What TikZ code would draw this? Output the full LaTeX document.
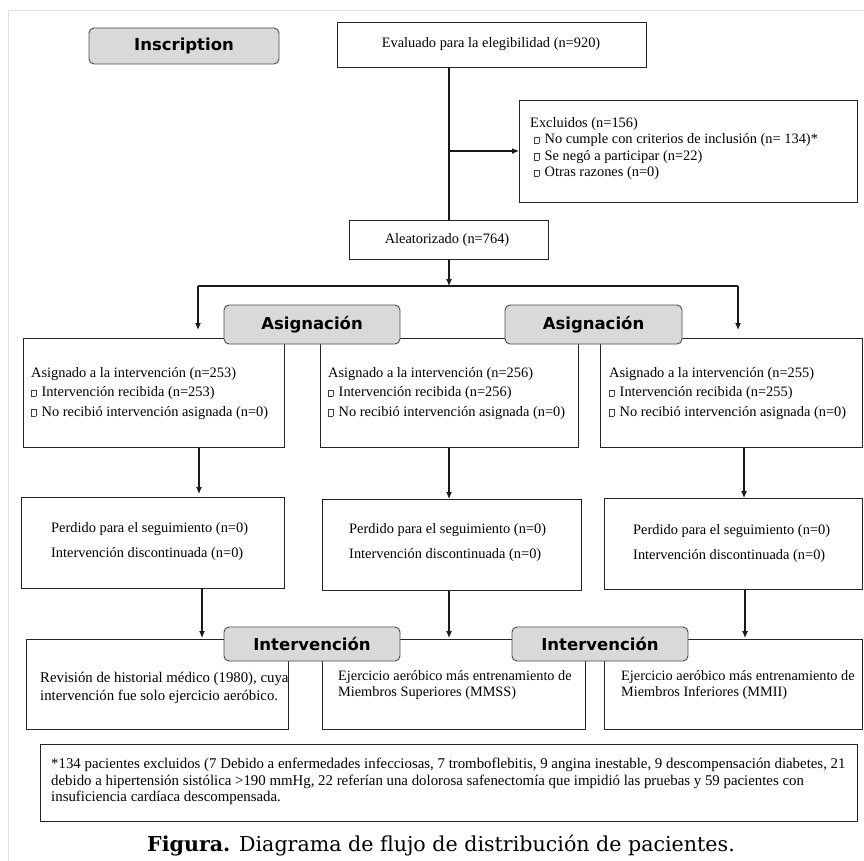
\documentclass[tikz,border=0pt]{standalone}
\usepackage{fontspec}
\setmainfont{Liberation Serif}
\newfontfamily\hdrfont{DejaVu Sans}
\newfontfamily\capfont{DejaVu Serif}
\usetikzlibrary{arrows.meta}
\newcommand{\sq}{{\fboxsep=0pt\fboxrule=0.5pt\color{black!75}\raisebox{0.5pt}{\fbox{\rule{0pt}{6pt}\rule{4pt}{0pt}}}}\hspace{5.5pt}}
\tikzset{
  box/.style={draw=black!85, line width=0.9pt, fill=white, inner sep=0pt, anchor=north west},
  hdr/.style={draw=black!70, line width=0.9pt, fill=black!15, rounded corners=5pt, inner sep=0pt,
     font=\hdrfont\bfseries\fontsize{16.5}{18}\selectfont},
  txt/.style={inner sep=0pt, align=left, anchor=north west, font=\fontsize{14.4}{16.5}\selectfont},
  txtb/.style={inner sep=0pt, align=left, anchor=north west, font=\fontsize{14.4}{19.5}\selectfont},
  ln/.style={line width=1.1pt, black!90},
  arr/.style={line width=1.1pt, black!90, -{Latex[length=7pt,width=6pt]}},
}
\begin{document}
\begin{tikzpicture}[x=1pt,y=-1pt]
\useasboundingbox (0,0) rectangle (864,861);
% page frame
\draw[black!12, line width=1pt] (8,861) -- (8,11) -- (864,11);

% top part
\node[hdr, minimum width=190pt, minimum height=36pt] (insc) at (184,46) {Inscription};
\node[box, minimum width=309pt, minimum height=45pt] (eval) at (337,22) {};
\node[txt, anchor=center] (evalt) at (491,44) {Evaluado para la elegibilidad (n=920)};
\node[box, minimum width=338pt, minimum height=102pt] (excl) at (519,100) {};
\node[txt] (exclt) at (530,117) {Excluidos (n=156)\\
 \hspace{4pt}\sq No cumple con criterios de inclusión (n= 134)*\\
 \hspace{4pt}\sq Se negó a participar (n=22)\\
 \hspace{4pt}\sq Otras razones (n=0)};
\node[box, minimum width=199pt, minimum height=39pt] (alea) at (349,220) {};
\node[txt, anchor=center] (aleat) at (447,240) {Aleatorizado (n=764)};

\coordinate (j1) at (449,151);
\coordinate (j2) at (449,286);
\coordinate (L) at (198,286);
\coordinate (R) at (738,286);
\draw[ln] (eval.south -| j1) -- (alea.north -| j1);
\draw[arr] (j1) -- (excl.west |- j1);
\draw[arr] (alea.south -| j2) -- (j2);
\draw[ln] (L) -- (R);

% row 1
\node[box, minimum width=261pt, minimum height=109pt] (b1l) at (23,338) {};
\node[box, minimum width=258pt, minimum height=109pt] (b1m) at (320,338) {};
\node[box, minimum width=262pt, minimum height=109pt] (b1r) at (600,338) {};
\node[txtb] (b1lt) at (31,367) {Asignado a la intervención (n=253)\\ \sq Intervención recibida (n=253)\\ \sq No recibió intervención asignada (n=0)};
\node[txtb] (b1mt) at (328,367) {Asignado a la intervención (n=256)\\ \sq Intervención recibida (n=256)\\ \sq No recibió intervención asignada (n=0)};
\node[txtb] (b1rt) at (609,367) {Asignado a la intervención (n=255)\\ \sq Intervención recibida (n=255)\\ \sq No recibió intervención asignada (n=0)};
\node[hdr, minimum width=176pt, minimum height=39pt] (asig1) at (312,324.5) {Asignación};
\node[hdr, minimum width=177pt, minimum height=39pt] (asig2) at (593.5,324.5) {Asignación};
\draw[arr, shorten >=8pt] (L) -- (b1l.north -| L);
\draw[arr, shorten >=8pt] (R) -- (b1r.north -| R);

% row 2
\node[box, minimum width=263pt, minimum height=91pt] (b2l) at (21,497) {};
\node[box, minimum width=259pt, minimum height=91pt] (b2m) at (322,499) {};
\node[box, minimum width=258pt, minimum height=91pt] (b2r) at (604,498) {};
\node[txtb, font=\fontsize{14.4}{25}\selectfont] (b2lt) at (51,522) {Perdido para el seguimiento (n=0)\\ Intervención discontinuada (n=0)};
\node[txtb, font=\fontsize{14.4}{25}\selectfont] (b2mt) at (349,523) {Perdido para el seguimiento (n=0)\\ Intervención discontinuada (n=0)};
\node[txtb, font=\fontsize{14.4}{25}\selectfont] (b2rt) at (633,524) {Perdido para el seguimiento (n=0)\\ Intervención discontinuada (n=0)};
\draw[arr, shorten >=3pt] (b1l.south -| 199,0) -- (b2l.north -| 199,0);
\draw[arr] (b1m.south -| 449,0) -- (b2m.north -| 449,0);
\draw[arr] (b1r.south -| 744,0) -- (b2r.north -| 744,0);

% row 3
\node[box, minimum width=262pt, minimum height=90pt] (b3l) at (26,639) {};
\node[box, minimum width=263pt, minimum height=90pt] (b3m) at (322,639) {};
\node[box, minimum width=258pt, minimum height=90pt] (b3r) at (604,639) {};
\node[txt, font=\fontsize{14.8}{18}\selectfont] (b3lt) at (40,672) {Revisión de historial médico (1980), cuya\\ intervención fue solo ejercicio aeróbico.};
\node[txt, font=\fontsize{14.3}{16.5}\selectfont] (b3mt) at (338,670) {Ejercicio aeróbico más entrenamiento de\\ Miembros Superiores (MMSS)};
\node[txt, font=\fontsize{14.3}{16.5}\selectfont] (b3rt) at (621,670) {Ejercicio aeróbico más entrenamiento de\\ Miembros Inferiores (MMII)};
\node[hdr, minimum width=176pt, minimum height=34pt] (int1) at (312,644) {Intervención};
\node[hdr, minimum width=176pt, minimum height=34pt] (int2) at (600,644) {Intervención};
\draw[arr, shorten >=1pt] (b2l.south -| 202,0) -- (b3l.north -| 202,0);
\draw[arr, shorten >=1pt] (b2m.south -| 449,0) -- (b3m.north -| 449,0);
\draw[arr, shorten >=1pt] (b2r.south -| 745,0) -- (b3r.north -| 745,0);

% footnote
\node[box, minimum width=817pt, minimum height=77pt] (foot) at (40,744) {};
\node[txt, font=\fontsize{14.85}{16.5}\selectfont] (foott) at (51,758) {*134 pacientes excluidos (7 Debido a enfermedades infecciosas, 7 tromboflebitis, 9 angina inestable, 9 descompensación diabetes, 21\\ debido a hipertensión sistólica >190 mmHg, 22 referían una dolorosa safenectomía que impidió las pruebas y 59 pacientes con\\ insuficiencia cardíaca descompensada.};

% caption
\node[inner sep=0pt, font=\capfont\fontsize{20.6}{22}\selectfont] (cap) at (441,846) {\textbf{Figura.} Diagrama de flujo de distribución de pacientes.};
\end{tikzpicture}
\end{document}
